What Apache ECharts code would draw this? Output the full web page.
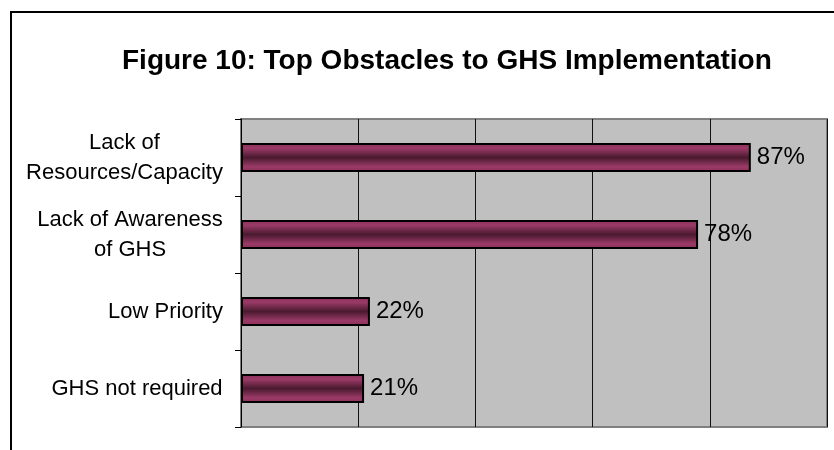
<!DOCTYPE html>
<html>
<head>
<meta charset="utf-8">
<script src="https://cdn.jsdelivr.net/npm/echarts@6/dist/echarts.min.js"></script>
<style>
    html, body { margin: 0; padding: 0; background: #fff; }
    #chart { width: 834px; height: 450px; }
</style>
</head>
<body>
<div id="chart"></div>
<script>
    // chart data
    const categories = ['Lack of\nResources/Capacity', 'Lack of Awareness\nof GHS', 'Low Priority', 'GHS not required']
    const values = [87, 78, 22, 21]
    const xTicks = [0, 20, 40, 60, 80, 100]

    const mychart = echarts.init(document.getElementById('chart'))
    const font = '"Liberation Sans", Arial, sans-serif'
    const labelSize = 22

    // measure the widest line of each label so multi-line labels are centred as a block
    const ctx = document.createElement('canvas').getContext('2d')
    ctx.font = labelSize + 'px ' + font
    const rich = {}
    categories.forEach((c, i) => {
        const w = Math.max(...c.split('\n').map(s => ctx.measureText(s).width))
        rich['c' + i] = {width: Math.ceil(w), align: 'center', fontFamily: font, fontSize: labelSize, lineHeight: 30, color: '#000'}
    })

    // cylinder-like shading of the bars
    const barColor = new echarts.graphic.LinearGradient(0, 0, 0, 1, [
        {offset: 0, color: '#8a2f5a'},
        {offset: 0.18, color: '#9b3a67'},
        {offset: 0.5, color: '#4a1a2f'},
        {offset: 0.82, color: '#9b3a67'},
        {offset: 1, color: '#8a2f5a'}
    ])

    mychart.setOption({
        backgroundColor: '#fff',
        animation: false,
        title: {
            text: 'Figure 10: Top Obstacles to GHS Implementation',
            left: 122,
            top: 47,
            padding: 0,
            textStyle: {
                fontFamily: font,
                fontSize: 28,
                fontWeight: 'bold',
                color: '#000'
            }
        },
        graphic: [
            {
                type: 'rect',
                shape: {x: 11, y: 12, width: 1000, height: 1000},
                style: {fill: 'none', stroke: '#000', lineWidth: 2},
                silent: true
            }
        ],
        grid: {
            left: 241,
            top: 119,
            right: 7,
            bottom: 23,
            show: true,
            backgroundColor: '#c0c0c0',
            borderColor: '#808080',
            borderWidth: 2
        },
        xAxis: {
            type: 'value',
            min: xTicks[0],
            max: xTicks[xTicks.length - 1],
            interval: xTicks[1] - xTicks[0],
            axisLabel: {show: false},
            axisLine: {show: false},
            axisTick: {show: false},
            splitLine: {show: true, lineStyle: {color: '#111', width: 1}}
        },
        yAxis: {
            type: 'category',
            data: categories,
            inverse: true,
            axisLine: {show: true, lineStyle: {color: '#000', width: 1}},
            axisTick: {show: true, length: 6, lineStyle: {color: '#000'}},
            axisLabel: {
                margin: 18,
                align: 'right',
                formatter: (v, i) => v.split('\n').map(s => '{c' + i + '|' + s + '}').join('\n'),
                rich: rich
            },
            splitLine: {show: false}
        },
        series: [{
            type: 'bar',
            data: values,
            barWidth: 29,
            itemStyle: {
                color: barColor,
                borderColor: '#000',
                borderWidth: 2
            },
            label: {
                show: true,
                position: 'right',
                distance: 6,
                formatter: '{c}%',
                fontFamily: font,
                fontSize: 24,
                color: '#000'
            }
        }]
    })
</script>
</body>
</html>
